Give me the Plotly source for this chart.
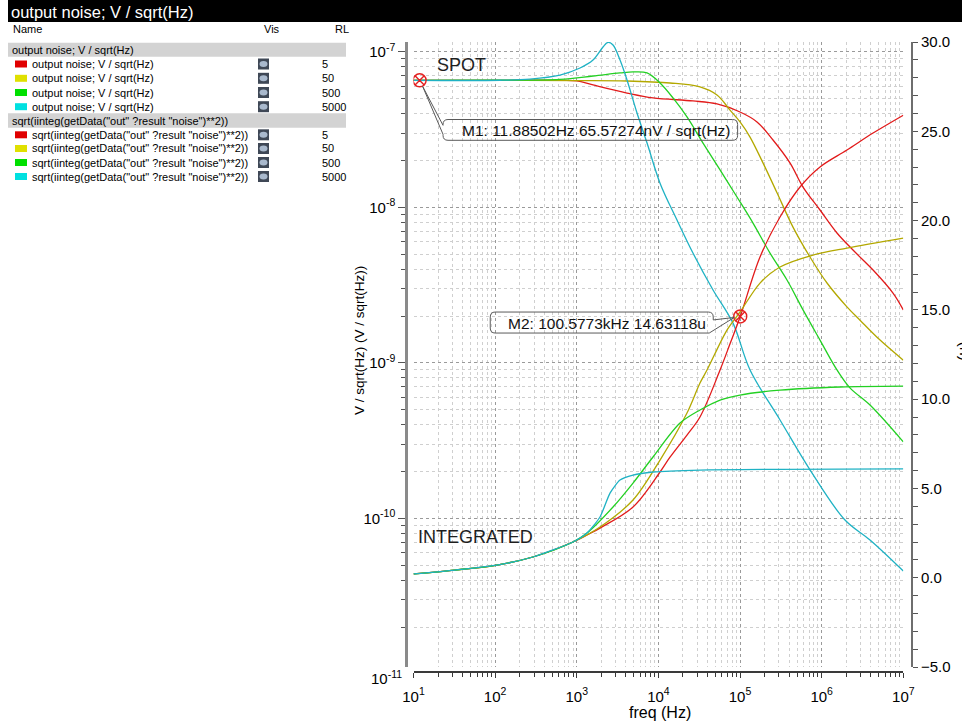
import math
import plotly.graph_objects as go

# ---------------------------------------------------------------- data
RL_VALUES = ["5", "50", "500", "5000"]
SWATCH_COLORS = ["#e00000", "#e0e000", "#00e000", "#00e0e0"]
LINE_COLORS = ["#e21b1b", "#b3a800", "#23d023", "#1fb2c4"]

SPOT_NAME = "output noise; V / sqrt(Hz)"
INT_NAME = 'sqrt(iinteg(getData("out" ?result "noise")**2))'

# spot noise, nV / sqrt(Hz)
spot_f_rl5 = [10, 100, 623, 1000, 1581, 4126, 8590, 26500, 52200, 100000, 161400,
              253500, 409000, 591000, 954000, 1.54e6, 2.42e6, 4.26e6, 7.48e6, 1e7]
spot_v_rl5 = [65.57, 65.57, 65.5, 65.0, 61.2, 54.3, 50.5, 48.3, 46.2, 41.0, 35.4,
              27.1, 19.3, 13.5, 9.61, 6.84, 5.31, 3.95, 2.81, 2.19]

spot_f_rl50 = [10, 100, 1000, 4126, 13870, 32300, 52200, 75400, 100000, 132600,
               191000, 283800, 445500, 719500, 1.163e6, 2.04e6, 2.95e6, 5.19e6, 1e7]
spot_v_rl50 = [65.57, 65.57, 65.3, 64.9, 63.0, 59.4, 52.7, 42.2, 35.4, 28.3,
               19.3, 12.4, 7.46, 4.79, 3.26, 2.29, 1.88, 1.40, 1.04]

spot_f_rl500 = [10, 100, 623, 1581, 3388, 4887, 7260, 10470, 15100, 22400, 35200,
                56900, 91800, 144200, 232800, 376000, 591000, 954000, 1.54e6,
                2.22e6, 3.91e6, 1e7]
spot_v_rl500 = [65.57, 65.6, 66.5, 69.9, 73.1, 74.2, 73.1, 63.0, 50.5, 38.1, 25.9,
                17.4, 11.65, 7.92, 5.08, 3.41, 2.19, 1.40, 0.90, 0.69, 0.535, 0.310]

spot_f_rl5000 = [10, 115, 267, 623, 1096, 1581, 2096, 2414, 2780, 3388, 4126, 5470,
                 7260, 10470, 16900, 26500, 46700, 82000, 132600, 309000, 719500,
                 1.93e6, 3.91e6, 1e7]
spot_v_rl5000 = [65.57, 65.6, 66.8, 70.9, 78.7, 88.6, 107.4, 115.0, 110.6, 88.6,
                 65.9, 40.4, 25.9, 14.3, 8.28, 5.08, 2.94, 1.80, 0.90, 0.429, 0.205,
                 0.0975, 0.0725, 0.0458]

# integrated noise, u
int_f_rl5 = [10, 32, 105, 290, 899, 1335, 1926, 4887, 10470, 13870, 22400, 32300,
             56900, 75400, 100577, 175700, 309000, 543000, 954000, 2.04e6, 4.26e6, 1e7]
int_v_rl5 = [0.21, 0.43, 0.71, 1.16, 2.0, 2.39, 2.78, 3.96, 5.92, 6.75, 7.99, 9.0,
             11.63, 13.1, 14.63, 17.96, 20.2, 21.88, 23.0, 23.95, 24.9, 25.9]

int_f_rl50 = [10, 32, 105, 290, 899, 1926, 4887, 10470, 22400, 32300, 39400, 69200,
              100000, 175700, 309000, 783500, 2.04e6, 1e7]
int_v_rl50 = [0.21, 0.43, 0.71, 1.16, 2.0, 2.84, 4.35, 6.59, 9.22, 10.9, 11.63,
              13.87, 14.88, 16.5, 17.4, 18.07, 18.46, 19.02]

int_f_rl500 = [10, 32, 105, 290, 899, 1335, 2780, 4887, 8590, 18400, 32300, 56900,
               100000, 309000, 1.68e6, 1e7]
int_v_rl500 = [0.21, 0.43, 0.71, 1.16, 2.0, 2.50, 3.96, 5.30, 6.76, 8.66, 9.39,
               9.95, 10.23, 10.5, 10.68, 10.73]

int_f_rl5000 = [10, 32, 105, 290, 899, 1335, 1926, 2555, 3388, 4887, 8590, 32300, 1e7]
int_v_rl5000 = [0.21, 0.43, 0.71, 1.16, 2.0, 2.50, 3.40, 4.74, 5.47, 5.75, 5.92,
                6.03, 6.09]

spot_series = [(spot_f_rl5, spot_v_rl5), (spot_f_rl50, spot_v_rl50),
               (spot_f_rl500, spot_v_rl500), (spot_f_rl5000, spot_v_rl5000)]
int_series = [(int_f_rl5, int_v_rl5), (int_f_rl50, int_v_rl50),
              (int_f_rl500, int_v_rl500), (int_f_rl5000, int_v_rl5000)]
INT_SMOOTHING = [1.0, 0.9, 0.9, 0.6]

# markers
M1_FREQ, M1_VAL_NV = 11.88502, 65.57274
M2_FREQ, M2_VAL_U = 100577.3, 14.63118
M1_TEXT = "M1: 11.88502Hz 65.57274nV / sqrt(Hz)"
M2_TEXT = "M2: 100.5773kHz 14.63118u"

X_DECADES = list(range(1, 8))
Y_DECADES = [-10, -9, -8, -7]

# ---------------------------------------------------------------- layout geometry
W, H = 962, 724
ML, MR, MT, MB = 406, 50, 42, 52
PW = W - ML - MR
PH = H - MT - MB
FONT = "Liberation Sans, Arial, Helvetica, sans-serif"


def px(x):
    return (x - ML) / PW


def py(y):
    return (H - MB - y) / PH


fig = go.Figure()

for (f, v), col in zip(spot_series, LINE_COLORS):
    fig.add_trace(go.Scatter(
        x=f, y=[a * 1e-9 for a in v], mode="lines",
        line=dict(color=col, width=1.3, shape="spline", smoothing=1.0),
        xaxis="x", yaxis="y", hoverinfo="skip"))

for (f, v), col, sm in zip(int_series, LINE_COLORS, INT_SMOOTHING):
    fig.add_trace(go.Scatter(
        x=f, y=v, mode="lines",
        line=dict(color=col, width=1.3, shape="spline", smoothing=sm),
        xaxis="x", yaxis="y2", hoverinfo="skip"))

marker_style = dict(symbol="circle-x-open", size=13, color="#e52020",
                    line=dict(width=1.4, color="#e52020"))
fig.add_trace(go.Scatter(x=[M1_FREQ], y=[M1_VAL_NV * 1e-9], mode="markers",
                         marker=marker_style, yaxis="y", hoverinfo="skip"))
fig.add_trace(go.Scatter(x=[M2_FREQ], y=[M2_VAL_U], mode="markers",
                         marker=marker_style, yaxis="y2", hoverinfo="skip"))

minor_x = [m * 10.0 ** k for k in range(1, 7) for m in range(2, 10)]
minor_y = [m * 10.0 ** k for k in range(-11, -7) for m in range(2, 10)]

MAJOR_GRID = "#9a9a9a"
MINOR_GRID = "#cfcfcf"

fig.update_layout(
    width=W, height=H,
    margin=dict(l=ML, r=MR, t=MT, b=MB, pad=0),
    paper_bgcolor="white", plot_bgcolor="white",
    showlegend=False, hovermode=False,
    font=dict(family=FONT, color="black"),
    xaxis=dict(
        type="log", range=[1, 7], domain=[px(413.5), px(903.3)],
        anchor="free", position=0,
        showline=True, linecolor="#3a3a3a", linewidth=1.5,
        ticks="outside", ticklen=5, tickcolor="#3a3a3a", tickwidth=1,
        tickmode="array", tickvals=[10.0 ** k for k in X_DECADES],
        ticktext=[f"10<sup>{k}</sup>" for k in X_DECADES],
        tickfont=dict(size=15, family=FONT), ticklabelstandoff=6,
        showgrid=True, gridcolor=MAJOR_GRID, griddash="dot", gridwidth=1,
        minor=dict(tickmode="array", tickvals=minor_x, ticks="outside", ticklen=4,
                   tickcolor="#3a3a3a", showgrid=True, gridcolor=MINOR_GRID,
                   griddash="dot", gridwidth=1),
        zeroline=False),
    yaxis=dict(
        type="log", range=[-10.956, -6.937], domain=[py(667), 1],
        anchor="free", position=0,
        showline=True, linecolor="#8a8a8a", linewidth=2.5,
        ticks="outside", ticklen=7, tickcolor="#555555", tickwidth=1,
        tickmode="array", tickvals=[10.0 ** k for k in Y_DECADES],
        ticktext=[f"10<sup>{k}</sup>" for k in Y_DECADES],
        tickfont=dict(size=15, family=FONT),
        showgrid=True, gridcolor=MAJOR_GRID, griddash="dot", gridwidth=1,
        minor=dict(tickmode="array", tickvals=minor_y, ticks="outside", ticklen=4,
                   tickcolor="#555555", showgrid=True, gridcolor=MINOR_GRID,
                   griddash="dot", gridwidth=1),
        zeroline=False),
    yaxis2=dict(
        overlaying="y", side="right", anchor="free", position=1,
        range=[-5, 30], tick0=0, dtick=5, tickformat=".1f",
        showline=True, linecolor="#6e6e6e", linewidth=2,
        ticks="outside", ticklen=5, tickcolor="#555555",
        tickfont=dict(size=15, family=FONT),
        minor=dict(dtick=1, ticks="outside", ticklen=5, tickcolor="#555555"),
        showgrid=False, zeroline=False),
)


# ---------------------------------------------------------------- callouts
def callout_path(L, R, T, B, tail, side, r=5):
    """Rounded box with a pointer tail; coordinates are screen offsets (y down)
    from the anchor, converted to plotly pixel-size offsets (y up)."""
    pts = []

    def P(cmd, *xy):
        s = cmd
        for i in range(0, len(xy), 2):
            s += f" {xy[i]:.1f},{-xy[i + 1]:.1f}"
        pts.append(s)

    P("M", L + r, T)
    P("L", R - r, T)
    P("Q", R, T, R, T + r)
    if side == "right":
        P("L", R, tail[0][1])
        for tx, ty in tail[1:-1]:
            P("L", tx, ty)
        P("L", tail[-1][0], tail[-1][1])
        P("L", L + r, B)
    else:
        P("L", R, B - r)
        P("Q", R, B, R - r, B)
        P("L", L + r, B)
    P("Q", L, B, L, B - r)
    if side == "left":
        for tx, ty in tail:
            P("L", tx, ty)
    P("L", L, T + r)
    P("Q", L, T, L + r, T)
    pts.append("Z")
    return " ".join(pts)


m1_path = callout_path(23.4, 318.0, 39.2, 60.0,
                       [(23.4, 54.0), (3.0, 6.0), (23.4, 45.0)], "left")
m2_path = callout_path(-250.0, -27.0, -4.4, 16.6,
                       [(-27.0, 3.5), (-6.0, 1.0), (-31.0, 16.6)], "right")

fig.add_shape(type="path", path=m1_path, xref="x", yref="y",
              xsizemode="pixel", ysizemode="pixel",
              xanchor=M1_FREQ, yanchor=M1_VAL_NV * 1e-9,
              line=dict(color="#5a5a5a", width=1), fillcolor="rgba(0,0,0,0)")
fig.add_shape(type="path", path=m2_path, xref="x", yref="y2",
              xsizemode="pixel", ysizemode="pixel",
              xanchor=M2_FREQ, yanchor=M2_VAL_U,
              line=dict(color="#5a5a5a", width=1), fillcolor="rgba(0,0,0,0)")

fig.add_annotation(x=math.log10(M1_FREQ), y=math.log10(M1_VAL_NV * 1e-9),
                   xref="x", yref="y", text=M1_TEXT, showarrow=False,
                   xshift=176.4, yshift=-49.7,
                   font=dict(size=15.5, family=FONT, color="#111111"))
fig.add_annotation(x=math.log10(M2_FREQ), y=M2_VAL_U, xref="x", yref="y2",
                   text=M2_TEXT, showarrow=False, xshift=-133, yshift=-6.6,
                   font=dict(size=15.5, family=FONT, color="#111111"))


# ---------------------------------------------------------------- chart labels
def paper_text(x, y, text, size, color="black", xanchor="center", angle=0,
               yanchor="middle"):
    fig.add_annotation(x=px(x), y=py(y), xref="paper", yref="paper", text=text,
                       showarrow=False, xanchor=xanchor, yanchor=yanchor,
                       textangle=angle,
                       font=dict(size=size, family=FONT, color=color))


paper_text(461, 65.5, "SPOT", 18, "#1e1e1e")
paper_text(475.5, 536.5, "INTEGRATED", 18, "#1e1e1e")
paper_text(359, 341, "V / sqrt(Hz) (V / sqrt(Hz))", 13.5, angle=-90)
paper_text(660, 712, "freq (Hz)", 16)
paper_text(963, 351, "(u)", 16, angle=-90)
paper_text(404, 677, "10<sup>-11</sup>", 15, xanchor="right")


# ---------------------------------------------------------------- trace list panel
def paper_rect(x0, y0, x1, y1, fill, kind="rect"):
    fig.add_shape(type=kind, xref="paper", yref="paper",
                  x0=px(x0), x1=px(x1), y0=py(y1), y1=py(y0),
                  fillcolor=fill, line=dict(width=0))


paper_rect(8, 0, 962, 22, "black")
paper_text(9, 12, SPOT_NAME, 16.5, "white", xanchor="left")

paper_text(11, 29, "Name", 11, xanchor="left")
paper_text(262, 29, "Vis", 11, xanchor="left")
paper_text(333, 29, "RL", 11, xanchor="left")

group_rows = [
    (SPOT_NAME, 42.7, 56.7, [64.0, 78.3, 92.5, 106.7]),
    (INT_NAME, 113.3, 127.7, [134.8, 148.5, 162.5, 176.5]),
]
for name, band_top, band_bot, rows in group_rows:
    paper_rect(8, band_top, 346, band_bot, "#d3d3d3")
    paper_text(9.5, (band_top + band_bot) / 2, name, 11, xanchor="left")
    for yc, sw, rl in zip(rows, SWATCH_COLORS, RL_VALUES):
        paper_rect(15, yc - 3.5, 27, yc + 3.5, sw)
        paper_text(30, yc, name, 11, xanchor="left")
        paper_rect(258, yc - 5.5, 269, yc + 5.5, "#3f4856")
        paper_rect(259.5, yc - 3, 267.5, yc + 3, "#a9b9cd", kind="circle")
        paper_text(320, yc, rl, 11, xanchor="left")

fig.write_html("out.html")
